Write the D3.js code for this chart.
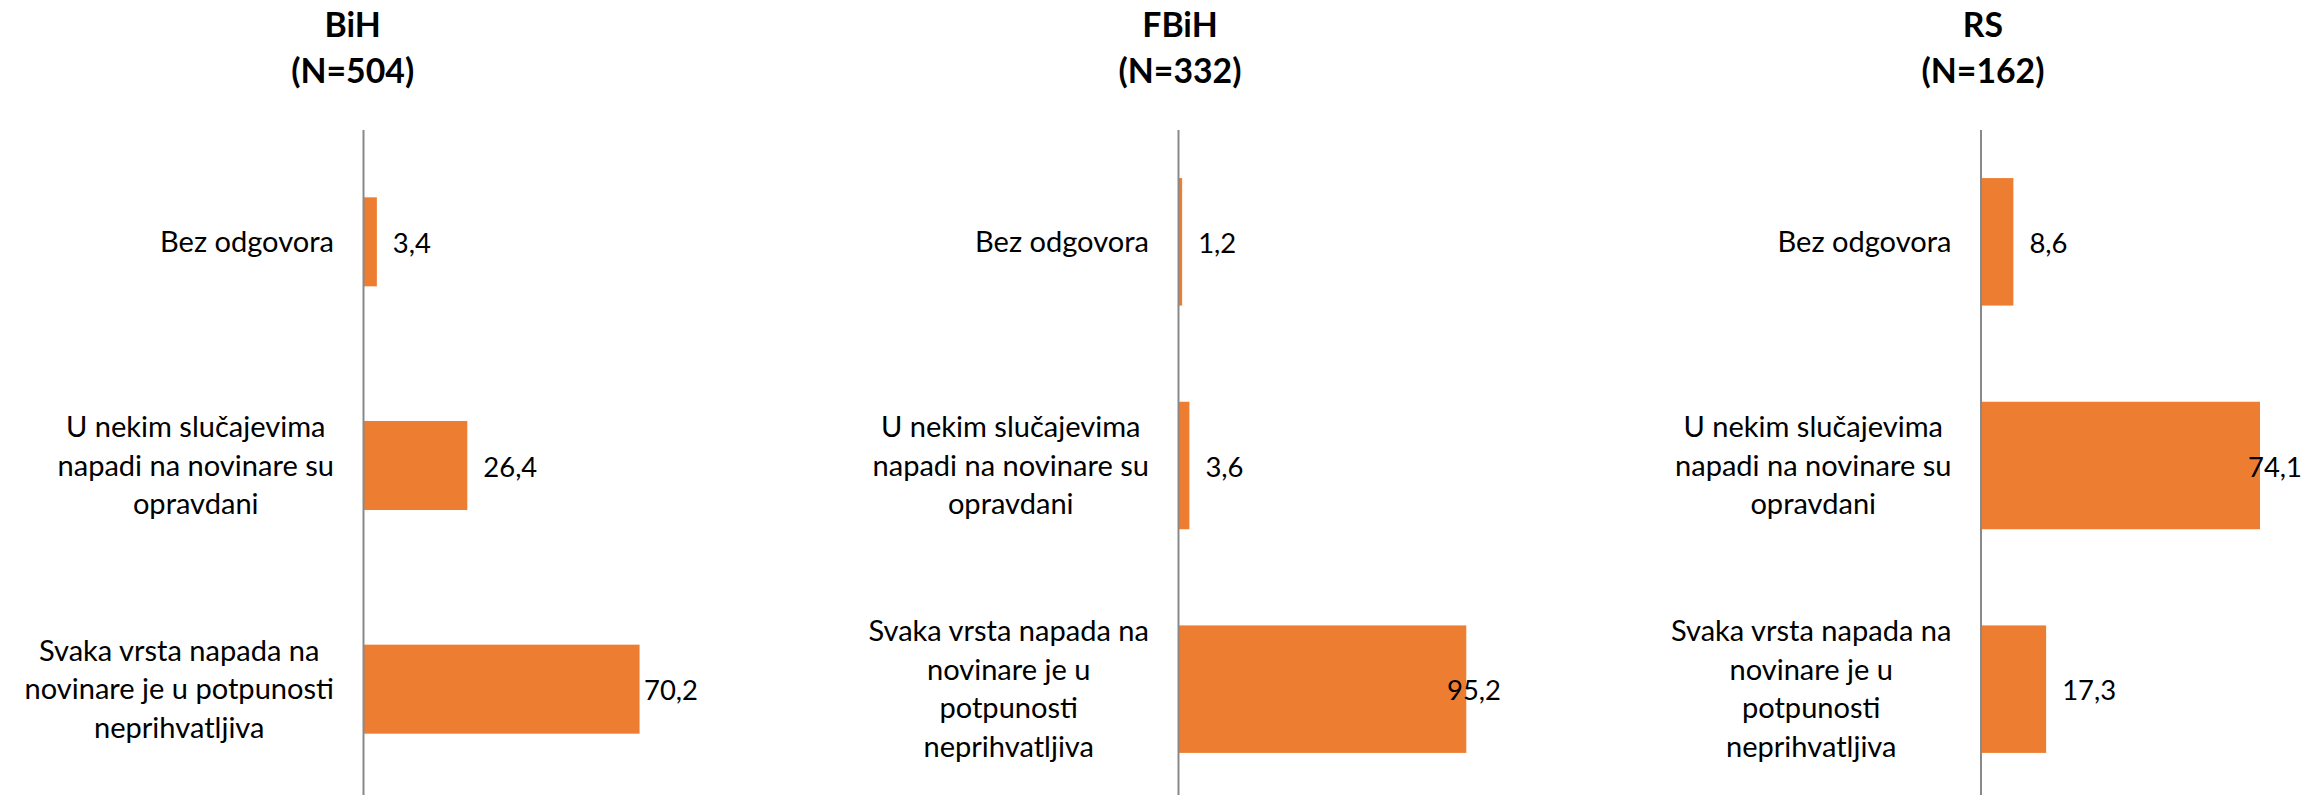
<!DOCTYPE html>
<html>
<head>
<meta charset="utf-8">
<script src="https://cdn.jsdelivr.net/npm/d3@7"></script>
<style>
  html, body { margin: 0; padding: 0; background: #ffffff; }
  svg { display: block; }
</style>
</head>
<body>
<svg id="chart" width="2308" height="795"></svg>
<script>
// ---------------- DATA ----------------
const panels = ["BiH", "FBiH", "RS"];
const panelN = [504, 332, 162];
const categories = [
  "Bez odgovora",
  "U nekim slučajevima napadi na novinare su opravdani",
  "Svaka vrsta napada na novinare je u potpunosti neprihvatljiva"
];
const valuesBiH  = [3.4, 26.4, 70.2];
const valuesFBiH = [1.2, 3.6, 95.2];
const valuesRS   = [8.6, 74.1, 17.3];
const axisMax    = [80, 100, 80];

// ---------------- LAYOUT ----------------
const layout = [
  { titleX: 352.7, axisX: 363.5, plotW: 314.6, labelEdge: 698,  wrapW: 335, pad: 0.602 },
  { titleX: 1180,  axisX: 1178.5, plotW: 302.3, labelEdge: 1501, wrapW: 300, pad: 0.43 },
  { titleX: 1983,  axisX: 1981,  plotW: 301.2, labelEdge: 2302, wrapW: 300, pad: 0.43 }
];
const seriesValues = [valuesBiH, valuesFBiH, valuesRS];
const FONT = "Lato, 'Open Sans', sans-serif";
const BAR = "#ED7D31";
const AXIS = "#898989";

const svg = d3.select("#chart");

// fit font sizes to measured reference text widths
function measure(text, size, weight) {
  const t = svg.append("text").attr("font-family", FONT).attr("font-size", size)
    .attr("font-weight", weight).text(text);
  const w = t.node().getComputedTextLength();
  t.remove();
  return w;
}
const labelFS = 100 * 174 / measure("Bez odgovora", 100, "normal");
const valueFS = 100 * 54 / measure("70,2", 100, "normal");
const titleFS = 100 * 123 / measure("(N=504)", 100, "bold");
const lineH = 38.5;

function wrap(text, width) {
  const words = text.split(" ");
  const lines = [];
  let cur = "";
  words.forEach(w => {
    const trial = cur ? cur + " " + w : w;
    if (cur && measure(trial, labelFS, "normal") > width) {
      lines.push(cur); cur = w;
    } else cur = trial;
  });
  if (cur) lines.push(cur);
  return lines;
}

panels.forEach((name, pi) => {
  const L = layout[pi];
  const vals = seriesValues[pi];
  const g = svg.append("g");

  const x = d3.scaleLinear().domain([0, axisMax[pi]]).range([L.axisX, L.axisX + L.plotW]);
  const y = d3.scaleBand().domain(categories).range([130, 801])
    .paddingInner(L.pad).paddingOuter(L.pad / 2);

  // title
  const title = g.append("text").attr("font-family", FONT).attr("font-weight", "bold")
    .attr("font-size", titleFS).attr("text-anchor", "middle").attr("fill", "#000");
  title.append("tspan").attr("x", L.titleX).attr("y", 37.3).text(name);
  title.append("tspan").attr("x", L.titleX).attr("y", 82.7).text("(N=" + panelN[pi] + ")");

  // bars
  g.selectAll("rect.bar").data(categories).enter().append("rect")
    .attr("class", "bar")
    .attr("x", x(0))
    .attr("y", d => y(d))
    .attr("width", (d, i) => x(vals[i]) - x(0))
    .attr("height", y.bandwidth())
    .attr("fill", BAR);

  // axis line (category axis)
  const axis = d3.axisLeft(y).tickSize(0).tickFormat("");
  const ag = g.append("g").attr("transform", `translate(${L.axisX},0)`).call(axis);
  ag.select(".domain").attr("stroke", AXIS).attr("stroke-width", 2)
    .attr("d", `M0,130V800`);

  // category labels
  categories.forEach(c => {
    const lines = wrap(c, L.wrapW);
    const widths = lines.map(l => measure(l, labelFS, "normal"));
    const blockW = d3.max(widths);
    const cx = L.axisX - 29.5 - blockW / 2;
    const cy = y(c) + y.bandwidth() / 2;
    const t = g.append("text").attr("font-family", FONT).attr("font-size", labelFS)
      .attr("text-anchor", "middle").attr("fill", "#000");
    lines.forEach((l, li) => {
      t.append("tspan").attr("x", cx)
        .attr("y", cy + 10 + (li - (lines.length - 1) / 2) * lineH)
        .text(l);
    });
  });

  // value labels
  vals.forEach((v, i) => {
    const txt = d3.format(".1f")(v).replace(".", ",");
    const w = measure(txt, valueFS, "normal");
    const lx = Math.min(x(v) + 16, L.labelEdge - w);
    g.append("text").attr("font-family", FONT).attr("font-size", valueFS)
      .attr("x", lx).attr("y", y(categories[i]) + y.bandwidth() / 2 + 11)
      .attr("fill", "#000").text(txt);
  });
});
</script>
</body>
</html>
